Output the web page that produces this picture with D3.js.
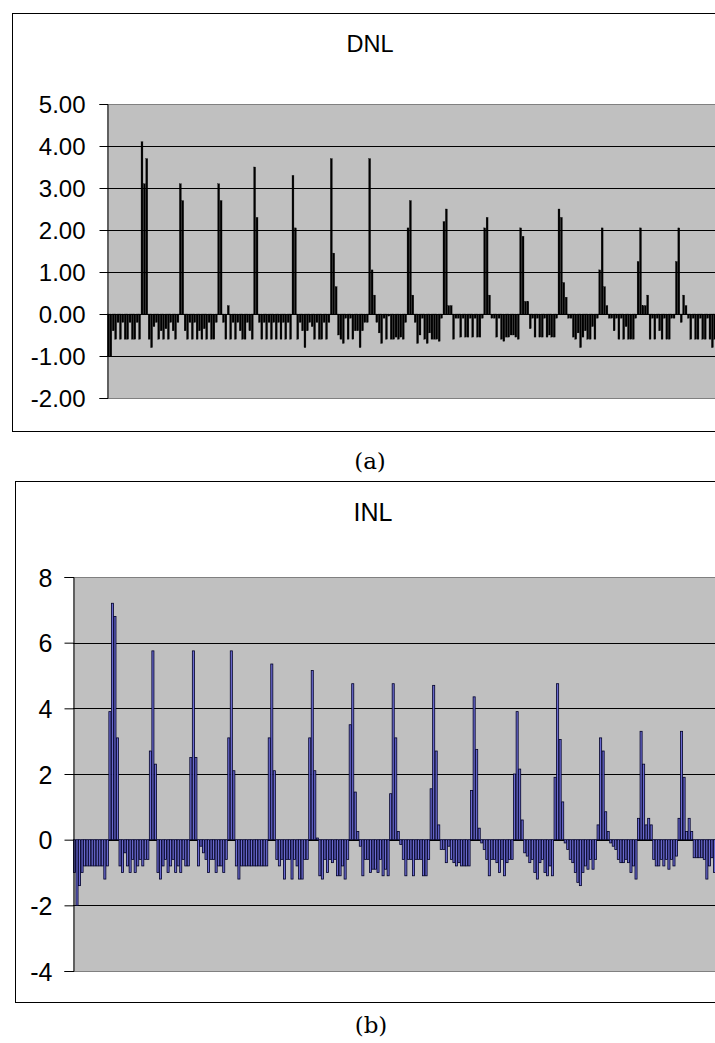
<!DOCTYPE html>
<html>
<head>
<meta charset="utf-8">
<script src="https://cdn.jsdelivr.net/npm/d3@7"></script>
<style>
  body { margin: 0; background: #fff; }
  svg { display: block; }
  text { font-family: "Liberation Sans", Arial, sans-serif; }
</style>
</head>
<body>
<script>
// DNL per code (256 codes)
const dnlValues = [
  -1.0, -1.0, -0.4, -0.6, -0.2, -0.6, -0.2, -0.6, -0.6, -0.2, -0.6, -0.6, -0.2, -0.6,
  4.1, 3.1, 3.7,
  -0.6, -0.8, -0.3, -0.2, -0.6, -0.4, -0.6, -0.35, -0.6, -0.2, -0.4, -0.6, -0.2,
  3.1, 2.7,
  -0.4, -0.6, -0.2, -0.6, -0.2, -0.6, -0.4, -0.6, -0.35, -0.6, -0.2, -0.6, -0.6, -0.2,
  3.1, 2.7,
  -0.2, -0.6, 0.2, -0.6, -0.2, -0.6, -0.2, -0.4, -0.6, -0.6, -0.2, -0.4, -0.6,
  3.5, 2.3,
  -0.2, -0.6, -0.2, -0.6, -0.2, -0.6, -0.2, -0.6, -0.2, -0.6, -0.2, -0.6, -0.2, -0.6,
  3.3, 2.05,
  -0.6, -0.2, -0.4, -0.8, -0.4, -0.2, -0.3, -0.6, -0.2, -0.6, -0.6, -0.2, -0.6, -0.2,
  3.7, 1.45, 0.65,
  -0.5, -0.6, -0.7, -0.1, -0.6, -0.1, -0.6, -0.4, -0.4, -0.8, -0.4, -0.2, -0.2,
  3.7, 1.05, 0.45,
  -0.2, -0.45, -0.7, -0.1, -0.6, -0.05, -0.6, -0.6, -0.55, -0.6, -0.55, -0.6, -0.2,
  2.05, 2.7, 0.45,
  -0.2, -0.7, -0.5, -0.1, -0.6, -0.7, -0.45, -0.6, -0.6, -0.6, -0.65, -0.1,
  2.2, 2.5, 0.2, 0.2,
  -0.6, -0.1, -0.1, -0.55, -0.1, -0.55, -0.55, -0.1, -0.55, -0.1, -0.55, -0.55, -0.1,
  2.05, 2.3, 0.45,
  -0.1, -0.1, -0.55, -0.1, -0.6, -0.65, -0.55, -0.55, -0.5, -0.5, -0.55, -0.6,
  2.05, 1.85, 0.3, 0.3,
  -0.35, -0.1, -0.55, -0.1, -0.55, -0.55, -0.1, -0.55, -0.5, -0.55, -0.55, -0.1,
  2.5, 2.3, 0.75, 0.4,
  -0.1, -0.1, -0.55, -0.6, -0.45, -0.8, -0.55, -0.4, -0.6, -0.6, -0.3, -0.6, -0.1,
  1.05, 2.05, 0.65, 0.2,
  -0.1, -0.1, -0.4, -0.1, -0.6, -0.1, -0.6, -0.3, -0.6, -0.6, -0.6, -0.1,
  1.25, 2.05, 0.2, 0.2, 0.45,
  -0.6, -0.1, -0.6, -0.1, -0.4, -0.6, -0.1, -0.6, -0.6, -0.1, -0.1,
  1.25, 2.05, -0.2, 0.45, 0.2,
  -0.1, -0.6, -0.1, -0.6, -0.6, -0.1, -0.6, -0.6, -0.1, -0.6, -0.8, -0.6, -0.6, -0.6
];

// INL per code (256 codes)
const inlValues = [
  -1.0, -2.0, -1.4, -1.0, -0.8, -0.8, -0.8, -0.8, -0.8, -0.8, -0.8, -0.8, -1.2, -0.8,
  3.9, 7.2, 6.8, 3.1,
  -0.8, -1.0, -0.4, -0.8, -1.0, -0.6, -1.0, -0.8, -0.6, -0.8, -0.6, -0.6,
  2.7, 5.75, 2.3,
  -1.0, -1.2, -0.8, -0.6, -1.0, -0.8, -0.6, -1.0, -0.8, -1.0, -0.6, -0.8, -0.8,
  2.5, 5.75, 2.5,
  -0.8, -0.2, -0.4, -0.6, -1.0, -0.6, -0.6, -1.0, -0.8, -0.8, -1.0, -0.6,
  3.1, 5.75, 2.1,
  -0.8, -1.2, -0.8, -0.8, -0.8, -0.8, -0.8, -0.8, -0.8, -0.8, -0.8, -0.8, -0.8,
  3.1, 5.35, 2.1,
  -0.6, -0.8, -0.6, -1.2, -0.6, -0.6, -1.2, -0.6, -0.8, -1.2, -1.2, -0.6, -0.6,
  3.1, 5.15, 2.1, 0.05,
  -1.1, -1.2, -0.6, -1.0, -0.6, -0.7, -0.6, -1.1, -1.1, -0.8, -1.2, -0.6,
  3.5, 4.75, 1.45, 0.25,
  -0.2, -1.1, -0.6, -0.6, -1.0, -0.9, -0.9, -1.0, -0.6, -1.1, -0.9, -1.1,
  1.4, 4.75, 3.1, 0.25,
  -0.15, -0.6, -1.1, -0.6, -0.6, -1.1, -0.6, -0.6, -0.6, -1.1, -1.1, -0.6,
  1.55, 4.7, 2.7, 0.45,
  -0.3, -0.3, -0.7, -0.2, -0.6, -0.7, -0.8, -0.7, -0.8, -0.8, -0.8, -0.8,
  1.5, 4.35, 2.75, 0.35,
  -0.1, -0.3, -0.6, -1.1, -0.6, -0.6, -0.7, -1.0, -0.6, -1.1, -0.7, -0.6, -0.6,
  2.0, 3.9, 2.15, 0.6,
  -0.4, -0.5, -0.7, -0.6, -1.0, -1.2, -0.7, -0.6, -1.0, -1.1, -0.8, -1.1,
  1.9, 4.75, 3.05, 1.15,
  -0.1, -0.3, -0.6, -0.7, -1.0, -1.3, -1.4, -1.0, -0.8, -0.9, -0.6, -0.9, -0.6,
  0.45, 3.1, 2.7, 0.85, 0.25,
  -0.1, -0.2, -0.3, -0.6, -0.7, -0.7, -0.6, -0.7, -1.0, -0.8, -1.2,
  0.65, 3.3, 2.3, 0.45, 0.65, 0.45,
  -0.6, -0.8, -0.8, -0.6, -0.8, -0.6, -0.9, -0.6, -0.8, -0.5,
  0.65, 3.3, 1.9, 0.25, 0.65, 0.25,
  -0.55, -0.55, -0.55, -0.55, -0.6, -1.2, -0.8, -0.55, -1.0, -0.6, -0.6
];

const dnlTicks = [-2, -1, 0, 1, 2, 3, 4, 5];
const inlTicks = [-4, -2, 0, 2, 4, 6, 8];
const codes = d3.range(256);

const svg = d3.select("body").append("svg")
  .attr("width", 715)
  .attr("height", 1043);

function drawPanel(p) {
  const g = svg.append("g");

  // outer chart frame (runs off the right edge like the reference)
  g.append("rect")
    .attr("x", p.frame[0] + 0.5).attr("y", p.frame[1] + 0.5)
    .attr("width", 760).attr("height", p.frame[2] - p.frame[1])
    .attr("fill", "#fff").attr("stroke", "#000").attr("stroke-width", 1);

  g.append("text")
    .attr("x", p.titleX).attr("y", p.titleY)
    .attr("text-anchor", "middle")
    .attr("font-size", p.titleSize)
    .text(p.title);

  const x = d3.scaleBand().domain(codes).range([p.left, p.right]).padding(p.pad);
  const y = d3.scaleLinear().domain([p.ticks[0], p.ticks[p.ticks.length - 1]]).range([p.bottom, p.top]);

  // plot area
  g.append("rect")
    .attr("x", p.left).attr("y", p.top)
    .attr("width", p.right - p.left).attr("height", p.bottom - p.top)
    .attr("fill", "#c0c0c0");

  // gridlines
  g.selectAll(".grid")
    .data(p.ticks)
    .enter().append("line")
    .attr("x1", p.left).attr("x2", p.right)
    .attr("y1", d => Math.round(y(d)) + 0.5).attr("y2", d => Math.round(y(d)) + 0.5)
    .attr("stroke", (d, i) => (i == 0 || i == p.ticks.length - 1) ? "#808080" : "#000")
    .attr("stroke-width", 1);

  // bars
  g.selectAll(".bar")
    .data(p.values)
    .enter().append("rect")
    .attr("x", (d, i) => x(i))
    .attr("width", x.bandwidth())
    .attr("y", d => y(Math.max(0, d)))
    .attr("height", d => Math.abs(y(d) - y(0)))
    .attr("fill", p.fill)
    .attr("stroke", p.stroke)
    .attr("stroke-width", p.strokeWidth);

  // y axis
  const axis = g.append("g")
    .attr("transform", "translate(" + (p.left + 0.5) + ",0)")
    .call(d3.axisLeft(y)
      .tickValues(p.ticks)
      .tickSize(p.tickSize)
      .tickPadding(p.tickPad)
      .tickFormat(p.fmt));
  axis.select(".domain").attr("stroke", "#000");
  axis.selectAll(".tick line").attr("stroke", "#000");
  axis.selectAll(".tick text")
    .attr("font-family", "Liberation Sans, Arial, sans-serif")
    .attr("font-size", p.labelSize)
    .attr("fill", "#000")
    .attr("dy", "0.36em");

  g.append("text")
    .attr("x", p.capX).attr("y", p.capY)
    .attr("text-anchor", "middle")
    .style("font-family", "'DejaVu Serif', serif")
    .attr("font-size", 23)
    .text(p.caption);
}

drawPanel({
  frame: [12, 13, 431],
  title: "DNL", titleX: 370, titleY: 52, titleSize: 23.5,
  left: 107, right: 721, top: 104, bottom: 398,
  values: dnlValues, ticks: dnlTicks, pad: 0.2,
  fill: "#000", stroke: "#000", strokeWidth: 0.3,
  tickSize: 8, tickPad: 14, labelSize: 24,
  fmt: d => d.toFixed(2),
  caption: "(a)", capX: 370, capY: 469
});

drawPanel({
  frame: [15, 481, 1002],
  title: "INL", titleX: 373, titleY: 521, titleSize: 25,
  left: 73, right: 721, top: 577, bottom: 971,
  values: inlValues, ticks: inlTicks, pad: 0.18,
  fill: "#6a6ad0", stroke: "#000028", strokeWidth: 0.8,
  tickSize: 9, tickPad: 12, labelSize: 25,
  fmt: d => String(d),
  caption: "(b)", capX: 371, capY: 1033
});
</script>
</body>
</html>
